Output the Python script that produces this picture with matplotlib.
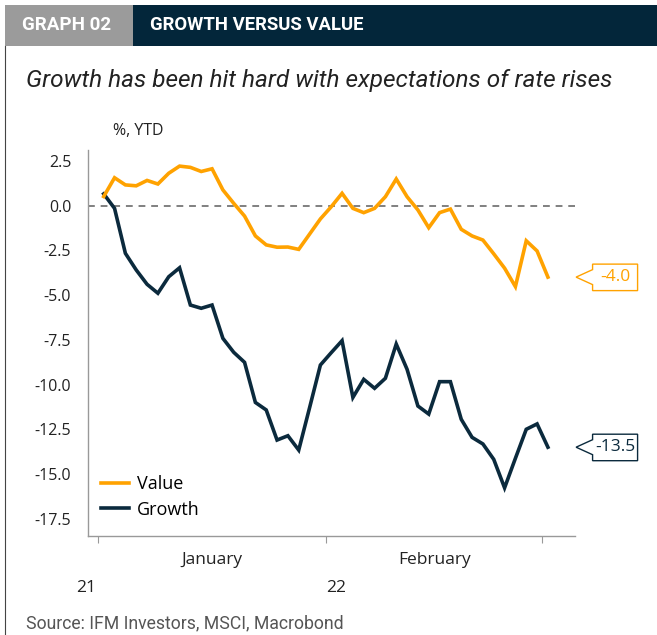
import matplotlib
matplotlib.use("Agg")
import matplotlib.pyplot as plt
import matplotlib.transforms as mtransforms
from matplotlib.patches import Polygon, Rectangle
from matplotlib.lines import Line2D
import numpy as np

# ---- data (business days, 3 Jan 2022 .. 1 Mar 2022), % YTD ----
value = [0.5, 1.55, 1.15, 1.1, 1.4, 1.2, 1.8, 2.2, 2.13, 1.9, 2.05, 0.87, 0.12, -0.59,
         -1.7, -2.2, -2.33, -2.32, -2.45, -1.6, -0.75, -0.07, 0.68, -0.16, -0.4, -0.16,
         0.49, 1.48, 0.49, -0.25, -1.24, -0.4, -0.2, -1.33, -1.7, -1.93, -2.7, -3.5,
         -4.53, -1.97, -2.54, -4.0]
growth = [0.65, -0.16, -2.67, -3.6, -4.4, -4.9, -3.98, -3.48, -5.56, -5.74, -5.56, -7.42,
          -8.2, -8.76, -11.0, -11.42, -13.1, -12.86, -13.66, -11.3, -8.91, -8.22, -7.55,
          -10.72, -9.71, -10.21, -9.65, -7.74, -9.15, -11.2, -11.65, -9.84, -9.84, -11.94,
          -12.95, -13.32, -14.18, -15.77, -14.12, -12.5, -12.2, -13.5]
series_names = ["Value", "Growth"]
month_labels = ["January", "February"]
year_labels = ["21", "22"]
month_bounds = [-0.5, 20.5, 40.5]   # month boundaries in day-index units
yticks = [2.5, 0.0, -2.5, -5.0, -7.5, -10.0, -12.5, -15.0, -17.5]
last_labels = ["-4.0", "-13.5"]

ORANGE = "#FFA200"
NAVY = "#0B2A3D"
HEADER_NAVY = "#03263A"
GRAY_BOX = "#9B9B9B"
TXT = "#222222"

W, H, DPI = 657, 635, 100
fig = plt.figure(figsize=(W / DPI, H / DPI), dpi=DPI)

def fx(px):
    return px / W

def fy(py):
    return 1 - py / H

# Header band
fig.patches.append(Rectangle((fx(5), fy(46)), fx(128), 41 / H, transform=fig.transFigure,
                             facecolor=GRAY_BOX, edgecolor="none"))
fig.patches.append(Rectangle((fx(133), fy(46)), fx(524), 41 / H, transform=fig.transFigure,
                             facecolor=HEADER_NAVY, edgecolor="none"))
fig.text(fx(22), fy(25), "GRAPH 02", color="white", fontsize=13.5, fontweight="bold",
         family="Roboto", va="center", ha="left")
fig.text(fx(150), fy(25), "GROWTH VERSUS VALUE", color="white", fontsize=13.3,
         fontweight="bold", family="Roboto", va="center", ha="left")
# Left border line
fig.add_artist(Line2D([fx(5), fx(5)], [fy(46), fy(635)], transform=fig.transFigure,
                      color="#444444", lw=0.8))

fig.text(fx(26), fy(80), "Growth has been hit hard with expectations of rate rises",
         fontsize=17.6, style="italic", family="Roboto", color=TXT,
         va="center", ha="left")
fig.text(fx(26), fy(623), "Source: IFM Investors, MSCI, Macrobond", fontsize=12.7,
         family="Roboto", color="#555555", va="center", ha="left")

# Axes
ax = fig.add_axes([fx(88), fy(536), fx(575 - 88), (536 - 150) / H])
x = np.arange(len(value))
ax.axhline(0, color="#808080", lw=1.4, ls=(0, (3.5, 3)), zorder=1)
ax.plot(x, value, color=ORANGE, lw=2.6, label=series_names[0], zorder=3,
        solid_joinstyle="miter")
ax.plot(x, growth, color=NAVY, lw=2.6, label=series_names[1], zorder=2,
        solid_joinstyle="miter")

ax.set_xlim(-1.45, 43.5)
ax.set_ylim(-18.46, 3.1)
for s in ["top", "right"]:
    ax.spines[s].set_visible(False)
for s in ["left", "bottom"]:
    ax.spines[s].set_color("#999999")
    ax.spines[s].set_linewidth(1.0)

ax.set_yticks(yticks)
ax.set_yticklabels([f"{v:.1f}" for v in yticks], family="Open Sans", fontsize=11.5,
                   color=TXT)
ax.tick_params(axis="y", length=0, pad=12)
ax.set_xticks(month_bounds)
ax.set_xticklabels([])
ax.tick_params(axis="x", length=5, color="#999999", direction="out")

# Month and year labels
xt = ax.get_xaxis_transform()
for i, m in enumerate(month_labels):
    cx = (month_bounds[i] + month_bounds[i + 1]) / 2
    ax.text(cx, -0.063, m, transform=xt, ha="center", va="center",
            family="Open Sans", fontsize=12.5, color=TXT)
ax.text(month_bounds[0] - 0.2, -0.134, year_labels[0], transform=xt,
        ha="right", va="center", family="Open Sans", fontsize=12.5, color=TXT)
ax.text(month_bounds[1] + 0.05, -0.134, year_labels[1], transform=xt,
        ha="left", va="center", family="Open Sans", fontsize=12.5, color=TXT)

ax.text(-1.45 + 2.35, 1.049,
        "%, YTD", transform=mtransforms.blended_transform_factory(ax.transData, ax.transAxes),
        ha="left", va="center", family="Open Sans", fontsize=11.5, color=TXT)

leg = ax.legend(loc="lower left", bbox_to_anchor=(0.0, 0.012), frameon=False,
                prop={"family": "Open Sans", "size": 13}, handlelength=1.55,
                handletextpad=0.45, labelspacing=0.42, borderaxespad=0.3)

# End-value tags
def tag(val, text, color):
    tr = mtransforms.Affine2D() + mtransforms.ScaledTranslation(43.6, val, ax.transData)
    verts = [(0, 0), (16.5, 7.5), (16.5, 13), (61.5, 13), (61.5, -13.5),
             (16.5, -13.5), (16.5, -7.5)]
    poly = Polygon(verts, closed=True, facecolor="white", edgecolor=color, lw=1.0,
                   transform=tr, clip_on=False, zorder=5)
    ax.add_patch(poly)
    ax.text(39, -0.3, text, transform=tr, ha="center", va="center", color=color,
            family="Open Sans", fontsize=12.5, zorder=6, clip_on=False)

tag(value[-1], last_labels[0], ORANGE)
tag(growth[-1], last_labels[1], NAVY)

fig.savefig("out.png", dpi=DPI)
